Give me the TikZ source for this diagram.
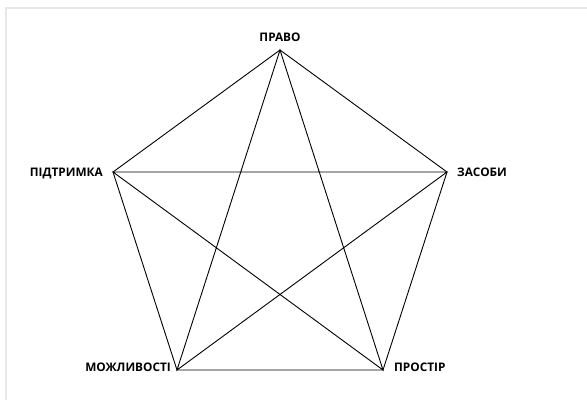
\documentclass[tikz,border=0pt]{standalone}
\usepackage{fontspec}
\setmainfont{Open Sans}
\begin{document}
\begin{tikzpicture}[x=1pt,y=-1pt,
  lbl/.style={font=\bfseries\fontsize{11.8}{13}\selectfont, inner sep=0pt},
  edge/.style={line width=0.9pt, black},
  frame/.style={line width=2.2pt, black!9}]
\useasboundingbox (0,0) rectangle (587,400);
\fill[white] (0,0) rectangle (587,400);
\draw[frame] (6,400) -- (6,8) -- (587,8);
\coordinate (A) at (280,50);
\coordinate (B) at (447,172);
\coordinate (C) at (383,370);
\coordinate (D) at (177,370);
\coordinate (E) at (113,172);
\draw[edge] (A) -- (B) -- (C) -- (D) -- (E) -- cycle;
\draw[edge] (A) -- (C) -- (E) -- (B) -- (D) -- cycle;
\node[lbl, anchor=base] (pravo) at (280,41) {ПРАВО};
\node[lbl, anchor=base east] (pidt) at (103,176) {ПІДТРИМКА};
\node[lbl, anchor=base west] (zasoby) at (457,176) {ЗАСОБИ};
\node[lbl, anchor=base east] (mozh) at (171,371) {МОЖЛИВОСТІ};
\node[lbl, anchor=base west] (prost) at (394,371) {ПРОСТІР};
\end{tikzpicture}
\end{document}
